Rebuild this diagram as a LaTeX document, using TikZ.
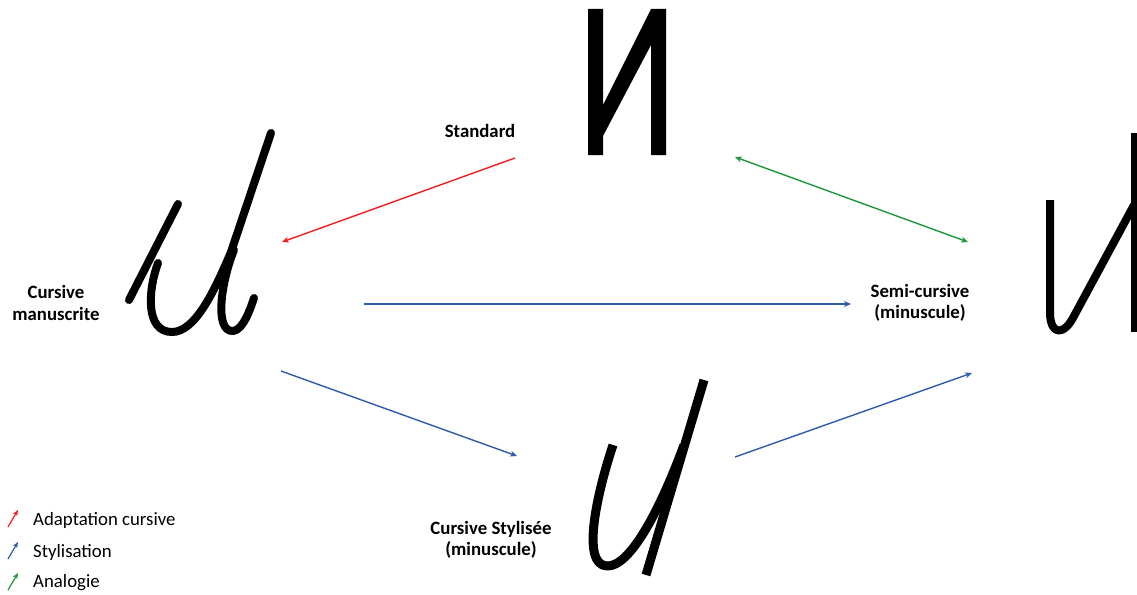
\documentclass[tikz,border=0pt]{standalone}
\usepackage{fontspec}
\setmainfont{Carlito}
\usetikzlibrary{arrows.meta}
\definecolor{cred}{RGB}{240,30,30}
\definecolor{cblue}{RGB}{46,92,170}
\definecolor{cgreen}{RGB}{30,150,60}
\tikzset{
  lbl/.style={font=\fontsize{18.8}{21.5}\selectfont\bfseries, align=center, inner sep=0pt},
  leg/.style={font=\fontsize{18.8}{21}\selectfont, anchor=west, inner sep=0pt},
  arr/.style={line width=1.4pt, -{Stealth[length=7pt,width=6pt]}},
  darr/.style={line width=1.4pt, {Stealth[length=7pt,width=6pt]}-{Stealth[length=7pt,width=6pt]}},
  ink/.style={line width=8pt, line cap=round, line join=round},
  inkb/.style={line width=9pt, line cap=butt, line join=round}
}
\begin{document}
\begin{tikzpicture}[x=1pt,y=-1pt]
\useasboundingbox (0,0) rectangle (1137,594);
\clip (0,0) rectangle (1137,594);

% Standard glyph
\fill[black] (588,9) -- (603,9) -- (603,105) -- (651,9) -- (666,9) -- (666,155) -- (651,155) -- (651,45) -- (603,136) -- (603,155) -- (588,155) -- cycle;

% Cursive manuscrite glyph
\draw[ink] (129,300) -- (178,204);
\draw[ink] (158,263) .. controls (148,290) and (145,332) .. (172,332)
   .. controls (195,332) and (214,292) .. (231,252) -- (271,133);
\draw[ink] (234,250) .. controls (221,282) and (214,332) .. (233,331)
   .. controls (243,330) and (250,310) .. (254,298);

% Semi-cursive glyph
\draw[line width=8pt, line cap=butt, line join=round] (1050,200) -- (1050,312)
   .. controls (1050,336) and (1064,336) .. (1074,316) -- (1134,205);
\draw[line width=8pt] (1135,133) -- (1135,332);

% Cursive stylisee glyph
\draw[inkb] (704,380) -- (646,575);
\draw[inkb] (613,445) .. controls (598,490) and (580,565) .. (607,566)
   .. controls (630,567) and (660,510) .. (684,445);

% Labels
\node[lbl] (std) at (480,131) {Standard};
\node[lbl] (cm) at (56,303) {Cursive\\manuscrite};
\node[lbl] (sc) at (920,303) {Semi-cursive\\(minuscule)};
\node[lbl] (cs) at (491,540) {Cursive Stylisée\\(minuscule)};

% Arrow endpoints
\coordinate (r1) at (515,158);
\coordinate (r2) at (282,242);
\coordinate (b1) at (364,304);
\coordinate (b2) at (851,304);
\coordinate (b3) at (281,371);
\coordinate (b4) at (517,456);
\coordinate (b5) at (735,457);
\coordinate (b6) at (972,373);
\coordinate (g1) at (735,157);
\coordinate (g2) at (968,242);

\draw[arr, cred] (r1) -- (r2);
\draw[arr, cblue] (b1) -- (b2);
\draw[arr, cblue] (b3) -- (b4);
\draw[arr, cblue] (b5) -- (b6);
\draw[darr, cgreen] (g1) -- (g2);

% Legend
\coordinate (la1) at (8,527);  \coordinate (la2) at (18,510);
\coordinate (lb1) at (8,559);  \coordinate (lb2) at (18,542);
\coordinate (lc1) at (8,590);  \coordinate (lc2) at (18,573);
\draw[line width=1.2pt, -{Stealth[length=6pt,width=5pt]}, cred] (la1) -- (la2);
\draw[line width=1.2pt, -{Stealth[length=6pt,width=5pt]}, cblue] (lb1) -- (lb2);
\draw[line width=1.2pt, -{Stealth[length=6pt,width=5pt]}, cgreen] (lc1) -- (lc2);
\node[leg] (t1) at (33,520) {Adaptation cursive};
\node[leg] (t2) at (33,552) {Stylisation};
\node[leg] (t3) at (33,583) {Analogie};
\end{tikzpicture}
\end{document}
